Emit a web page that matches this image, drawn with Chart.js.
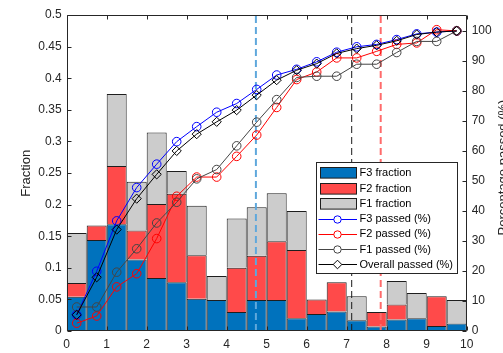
<!DOCTYPE html>
<html><head><meta charset="utf-8">
<script src="https://cdn.jsdelivr.net/npm/chart.js@4/dist/chart.umd.min.js"></script>
<style>html,body{margin:0;padding:0;background:#fff;overflow:hidden}#wrap{width:503px;height:353px;position:relative}</style>
</head><body><div id="wrap"><canvas id="c" width="503" height="353"></canvas></div>
<script>
// ---- data ----
const binCenters = [0.25,0.75,1.25,1.75,2.25,2.75,3.25,3.75,4.25,4.75,5.25,5.75,6.25,6.75,7.25,7.75,8.25,8.75,9.25,9.75];
const f3Fraction = [0.054,0.144,0.169,0.113,0.084,0.077,0.051,0.049,0.030,0.049,0.049,0.020,0.027,0.031,0.017,0.007,0.018,0.020,0.008,0.012];
const f2Fraction = [0.022,0.023,0.092,0.046,0.117,0.140,0.069,0.000,0.070,0.070,0.093,0.108,0.023,0.046,0.000,0.023,0.024,0.000,0.047,0.000];
const f1Fraction = [0.079,0.000,0.114,0.077,0.113,0.036,0.078,0.038,0.078,0.077,0.076,0.062,0.000,0.000,0.038,0.000,0.037,0.040,0.000,0.037];
const f3Passed = [5.4,19.9,36.7,47.8,55.6,63.1,68.1,72.9,75.8,80.5,85.3,87.2,89.7,92.9,94.7,95.5,97.1,99.0,99.6,100];
const f2Passed = [2.6,5.0,14.7,19.1,30.8,44.9,51.3,51.3,58.2,65.3,74.5,83.8,86.3,91.0,91.0,93.2,95.5,96.0,100.4,100];
const f1Passed = [8.0,8.0,19.6,27.4,36.0,42.9,50.7,53.8,61.7,69.6,77.1,84.5,84.9,84.9,88.9,88.9,92.8,96.5,96.5,100];
const overallPassed = [5.4,17.9,33.8,44.1,52.2,60.0,65.6,69.7,73.6,78.6,83.6,86.9,89.1,92.5,94.1,95.2,96.7,98.8,99.6,100];
const thresholdX = [4.73, 7.125, 7.85];   // blue, black, red dashed markers
const xTickValues = [0,1,2,3,4,5,6,7,8,9,10];
const fractionRange = [0, 0.5];
const percentRange = [0, 105.3];

// ---- helpers ----
const pts = arr => arr.map((v,i)=>({x:binCenters[i], y:v}));
const vline = x => [{x:x,y:percentRange[0]},{x:x,y:percentRange[1]}];
const FONT = "'Liberation Sans', Arial, sans-serif";
const AX = '#262626';

function barDs(label, vals, color){
  return {type:'bar', label, data: pts(vals), backgroundColor: color, borderColor:'#1e1e1e',
    borderWidth:1, yAxisID:'y', order:10, inLegend:true, kind:'bar',
    barPercentage:1, categoryPercentage:1, grouped:false, inflateAmount:0};
}
function lineDs(label, vals, color, style, order){
  return {type:'line', label, data: pts(vals), borderColor: color, backgroundColor:'rgba(0,0,0,0)',
    borderWidth:1, pointRadius: style==='rectRot'?4.6:4.3, pointStyle: style, pointBorderColor: color,
    pointBackgroundColor:'rgba(0,0,0,0)', pointBorderWidth:1, yAxisID:'y2', order, inLegend:true, kind:'line', tension:0};
}
function dashDs(x, color, w){
  return {type:'line', label:'', data: vline(x), borderColor: color, borderWidth: w, borderDash:[7,4],
    pointRadius:0, yAxisID:'y2', order:6, inLegend:false};
}

const datasets = [
  barDs('F3 fraction', f3Fraction, '#0072BD'),
  barDs('F2 fraction', f2Fraction, '#FF4A4A'),
  barDs('F1 fraction', f1Fraction, '#CCCCCC'),
  lineDs('F3 passed (%)', f3Passed, '#0000FF', 'circle', 4),
  lineDs('F2 passed (%)', f2Passed, '#FF0000', 'circle', 3),
  lineDs('F1 passed (%)', f1Passed, '#454545', 'circle', 2),
  lineDs('Overall passed (%)', overallPassed, '#000000', 'rectRot', 1),
  dashDs(thresholdX[0], '#5FA8DC', 2),
  dashDs(thresholdX[1], '#1a1a1a', 1),
  dashDs(thresholdX[2], '#FF6B6B', 2)
];

const framePlugin = {
  id:'frame',
  afterDatasetsDraw(chart){
    const ctx = chart.ctx, a = chart.chartArea;
    const sx = chart.scales.x, sy = chart.scales.y, sy2 = chart.scales.y2;
    ctx.save();
    ctx.strokeStyle = AX; ctx.lineWidth = 1;
    const L = Math.round(a.left)+0.5, R = Math.round(a.right)-0.5, T = Math.round(a.top)+0.5, B = Math.round(a.bottom)-0.5;
    ctx.beginPath();
    ctx.rect(L, T, R-L, B-T);
    const tl = 4;
    sy.ticks.forEach(t=>{ const y = Math.round(sy.getPixelForValue(t.value))+0.5; ctx.moveTo(L,y); ctx.lineTo(L+tl,y); });
    sy2.ticks.forEach(t=>{ const y = Math.round(sy2.getPixelForValue(t.value))+0.5; ctx.moveTo(R,y); ctx.lineTo(R-tl,y); });
    sx.ticks.forEach(t=>{ const x = Math.round(sx.getPixelForValue(t.value))+0.5; ctx.moveTo(x,B); ctx.lineTo(x,B-tl); ctx.moveTo(x,T); ctx.lineTo(x,T+tl); });
    ctx.stroke();
    ctx.restore();
  },
  afterDraw(chart){
    const ctx = chart.ctx;
    ctx.save();
    // axis titles
    ctx.fillStyle = AX;
    ctx.font = "13px " + FONT;
    ctx.textAlign = 'center'; ctx.textBaseline = 'alphabetic';
    ctx.save(); ctx.translate(29.5, 173.3); ctx.rotate(-Math.PI/2); ctx.fillText('Fraction', 0, 0); ctx.restore();
    ctx.save(); ctx.translate(506.5, 167.5); ctx.rotate(-Math.PI/2); ctx.fillText('Percentage passed (%)', 0, 0); ctx.restore();
    // legend
    const bx = 316.5, by = 162.5, bw = 141, bh = 111;
    ctx.fillStyle = '#fff'; ctx.fillRect(bx, by, bw, bh);
    ctx.strokeStyle = AX; ctx.lineWidth = 1; ctx.strokeRect(bx, by, bw, bh);
    const items = chart.data.datasets.filter(d=>d.inLegend);
    ctx.font = "11px " + FONT; ctx.textAlign = 'left'; ctx.textBaseline = 'middle';
    items.forEach((d,i)=>{
      const cy = 172.7 + i*15.27;
      if (d.kind === 'bar'){
        ctx.fillStyle = d.backgroundColor; ctx.fillRect(320.5, Math.round(cy-5.3)+0.5, 36, 10.6);
        ctx.strokeStyle = '#1e1e1e'; ctx.strokeRect(320.5, Math.round(cy-5.3)+0.5, 36, 10.6);
      } else {
        const yy = Math.round(cy)+0.5;
        ctx.strokeStyle = d.borderColor; ctx.lineWidth = 1;
        ctx.beginPath(); ctx.moveTo(318.5, yy); ctx.lineTo(357, yy); ctx.stroke();
        ctx.beginPath();
        const mx = 337.5, r = 3.7;
        if (d.pointStyle === 'rectRot'){ ctx.moveTo(mx, yy-r-0.6); ctx.lineTo(mx+r+0.6, yy); ctx.lineTo(mx, yy+r+0.6); ctx.lineTo(mx-r-0.6, yy); ctx.closePath(); }
        else ctx.arc(mx, yy, r, 0, Math.PI*2);
        ctx.fillStyle = '#fff'; ctx.fill(); ctx.stroke();
      }
      ctx.fillStyle = '#000';
      ctx.fillText(d.label, 359.5, cy+0.5);
    });
    ctx.restore();
  }
};

const tickFont = {family: FONT, size: 12};
new Chart(document.getElementById('c'), {
  type:'bar',
  data:{ datasets },
  options:{
    responsive:false, devicePixelRatio:1, animation:false,
    layout:{padding:{top:15,left:0,right:0,bottom:0}},
    plugins:{legend:{display:false}, tooltip:{enabled:false}},
    scales:{
      x:{ type:'linear', min:0, max:10, stacked:true, offset:false,
        grid:{display:false, drawTicks:false}, border:{display:false},
        afterBuildTicks: s => { s.ticks = xTickValues.map(v=>({value:v})); },
        ticks:{ font:tickFont, color:AX, padding:6, maxRotation:0, autoSkip:false },
        afterFit: s => { s.height = 22; } },
      y:{ position:'left', stacked:true, min:fractionRange[0], max:fractionRange[1],
        grid:{display:false, drawTicks:false}, border:{display:false},
        ticks:{ stepSize:0.05, font:tickFont, color:AX, padding:5, callback: v => String(+v.toFixed(2)) },
        afterFit: s => { s.width = 66.7; } },
      y2:{ position:'right', min:percentRange[0], max:percentRange[1],
        grid:{display:false, drawTicks:false}, border:{display:false},
        afterBuildTicks: s => { s.ticks = s.ticks.filter(t => Math.abs(t.value/10 - Math.round(t.value/10)) < 1e-6); },
        ticks:{ stepSize:10, font:tickFont, color:AX, padding:5 },
        afterFit: s => { s.width = 36.3; } }
    }
  },
  plugins:[framePlugin]
});
</script>
</body></html>
